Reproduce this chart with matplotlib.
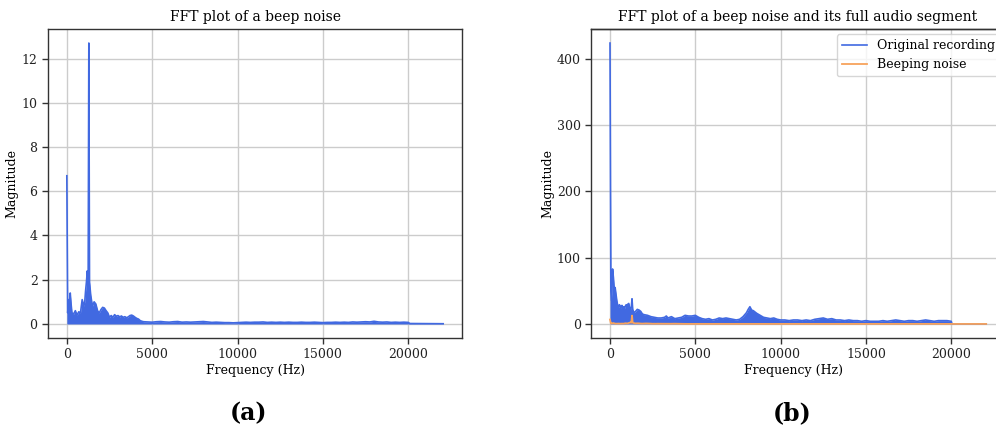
import matplotlib
matplotlib.use("Agg")
import matplotlib.pyplot as plt

# ---- data ----
# Beep noise spectrum (panel a, also the orange line in panel b)
beep_freq = [0, 50, 100, 150, 200, 250, 300, 400, 500, 600, 700, 800, 900, 1000,
             1050, 1100, 1150, 1200, 1250, 1290, 1330, 1400, 1500, 1600, 1700, 1800,
             1900, 2000, 2100, 2200, 2300, 2400, 2500, 2600, 2700, 2800, 2900, 3000,
             3100, 3200, 3300, 3400, 3500, 3600, 3700, 3800, 3900, 4000, 4100, 4200,
             4300, 4400, 4500, 4750, 5000, 5250, 5500, 5750, 6000, 6250, 6500, 6750,
             7000, 7250, 7500, 7750, 8000, 8250, 8500, 8750, 9000, 9250, 9500, 9750,
             10000, 10250, 10500, 10750, 11000, 11250, 11500, 11750, 12000, 12250,
             12500, 12750, 13000, 13250, 13500, 13750, 14000, 14250, 14500, 14750,
             15000, 15250, 15500, 15750, 16000, 16250, 16500, 16750, 17000, 17250,
             17500, 17750, 18000, 18250, 18500, 18750, 19000, 19250, 19500, 19750,
             20000, 20100, 22050]
beep_mag = [6.7, 0.5, 1.1, 0.7, 1.4, 0.9, 0.5, 0.45, 0.6, 0.4, 0.55, 0.5, 1.1, 0.8,
            1.0, 1.5, 1.9, 2.4, 1.8, 12.7, 1.9, 1.3, 0.8, 1.0, 0.9, 0.6,
            0.5, 0.65, 0.75, 0.72, 0.6, 0.5, 0.3, 0.38, 0.3, 0.42, 0.35, 0.38,
            0.32, 0.36, 0.3, 0.33, 0.28, 0.32, 0.38, 0.4, 0.36, 0.3, 0.25, 0.22,
            0.15, 0.12, 0.1, 0.09, 0.08, 0.1, 0.11, 0.09, 0.08, 0.1, 0.11, 0.08,
            0.09, 0.08, 0.09, 0.1, 0.11, 0.09, 0.07, 0.08, 0.07, 0.06, 0.06, 0.05,
            0.06, 0.07, 0.08, 0.07, 0.08, 0.08, 0.09, 0.07, 0.08, 0.07,
            0.08, 0.07, 0.08, 0.07, 0.07, 0.08, 0.07, 0.07, 0.08, 0.07,
            0.06, 0.07, 0.07, 0.08, 0.07, 0.08, 0.07, 0.09, 0.08, 0.09,
            0.1, 0.09, 0.12, 0.09, 0.08, 0.09, 0.07, 0.08, 0.07, 0.08,
            0.07, 0.02, 0.01]

# Original recording spectrum (panel b, blue)
orig_freq = [0, 50, 100, 150, 200, 250, 300, 350, 400, 450, 500, 550, 600, 650, 700,
             750, 800, 850, 900, 950, 1000, 1050, 1100, 1150, 1200, 1250, 1290, 1330,
             1400, 1500, 1600, 1700, 1800, 1900, 2000, 2200, 2400, 2600, 2800, 3000,
             3200, 3300, 3400, 3600, 3800, 4000, 4200, 4400, 4600, 4800, 5000, 5200,
             5400, 5600, 5800, 6000, 6200, 6400, 6600, 6800, 7000, 7200, 7400, 7600,
             7800, 8000, 8100, 8200, 8300, 8400, 8600, 8800, 9000, 9200, 9400, 9600,
             9800, 10000, 10250, 10500, 10750, 11000, 11250, 11500, 11750, 12000,
             12250, 12500, 12750, 13000, 13250, 13500, 13750, 14000, 14250, 14500,
             14750, 15000, 15250, 15500, 15750, 16000, 16250, 16500, 16750, 17000,
             17250, 17500, 17750, 18000, 18250, 18500, 18750, 19000, 19250, 19500,
             19750, 20000, 20050, 22050]
orig_mag = [424, 50, 35, 83, 70, 52, 55, 45, 35, 28, 25, 29, 27, 24, 28,
            25, 26, 23, 27, 29, 26, 30, 31, 24, 22, 26, 38, 22,
            17, 19, 22, 21, 19, 15, 14, 13, 11, 10, 9, 9,
            10, 12, 9, 11, 8, 9, 10, 13, 12, 12, 13, 10,
            8, 7, 8, 6, 7, 9, 8, 9, 8, 7, 6, 7,
            11, 17, 22, 26, 21, 20, 16, 13, 10, 9, 8, 9,
            7, 6, 6, 5, 6, 6, 5, 6, 5, 7,
            8, 9, 7, 8, 6, 6, 5, 6, 5, 5,
            4, 5, 4, 4, 4, 5, 4, 5, 6, 5,
            4, 5, 5, 4, 5, 6, 5, 4, 5, 5,
            5, 4, 0, 0]

titles = ["FFT plot of a beep noise",
          "FFT plot of a beep noise and its full audio segment"]
xlabel = "Frequency (Hz)"
ylabel = "Magnitude"
legend_labels = ["Original recording", "Beeping noise"]
captions = ["(a)", "(b)"]

BLUE = "#4169e1"
ORANGE = "#f7a35c"

plt.rcParams["font.family"] = ["DejaVu Serif"]
plt.rcParams["font.size"] = 9

fig = plt.figure(figsize=(9.96, 4.32), dpi=100)
W, H = 996.0, 432.0
ax1 = fig.add_axes([48 / W, (H - 338) / H, 414 / W, 309 / H])
# right panel runs off the right edge of the picture (as in the reference)
ax2 = fig.add_axes([591.2 / W, (H - 338) / H, (996 - 591.2) / W, 309 / H])


def style(ax):
    ax.grid(True, color="#cccccc", linewidth=1.0)
    ax.set_axisbelow(True)
    for s in ax.spines.values():
        s.set_color("#333333")
        s.set_linewidth(1.0)
    ax.tick_params(direction="out", length=4, width=1, color="#333333",
                   labelsize=9, labelcolor="#222222")
    ax.set_xticks([0, 5000, 10000, 15000, 20000])
    ax.set_xlabel(xlabel, fontsize=9, labelpad=2)
    ax.set_ylabel(ylabel, fontsize=9, labelpad=2)


# Panel (a)
ax1.fill_between(beep_freq, 0, beep_mag, color=BLUE, linewidth=0)
ax1.plot(beep_freq, beep_mag, color=BLUE, linewidth=1.2)
ax1.set_title(titles[0], fontsize=10)
style(ax1)
ax1.set_yticks([0, 2, 4, 6, 8, 10, 12])

# Panel (b)
ax2.fill_between(orig_freq, 0, orig_mag, color=BLUE, linewidth=0)
ax2.plot(orig_freq, orig_mag, color=BLUE, linewidth=1.2, label=legend_labels[0])
ax2.plot(beep_freq, beep_mag, color=ORANGE, linewidth=1.3, label=legend_labels[1])
ax2.set_title(titles[1], fontsize=10, x=(798 - 591.2) / (996 - 591.2))
style(ax2)
ax2.spines["right"].set_visible(False)
ax2.spines["top"].set_zorder(5)
ax2.set_yticks([0, 100, 200, 300, 400])
ax2.set_xlim(-1102.5, -1102.5 + (996 - 591.2) / 85.3 * 5000)
# explicit top frame edge (the panel continues past the picture edge)
ax2.plot([0, 1], [1, 1], transform=ax2.transAxes, color="#333333",
         linewidth=1.0, clip_on=False, zorder=6)
ax2.legend(handles=ax2.get_lines()[:2], loc="upper right", fontsize=9,
           frameon=True, framealpha=0.8, edgecolor="#cccccc", fancybox=True,
           handlelength=2.0, borderaxespad=0.4,
           bbox_to_anchor=((1005 - 591.2) / (996 - 591.2), 1.0))

fig.text(248 / W, (H - 413) / H, captions[0], ha="center", va="center",
         fontsize=17, fontweight="bold")
fig.text(792 / W, (H - 413) / H, captions[1], ha="center", va="center",
         fontsize=17, fontweight="bold")

fig.savefig("out.png", dpi=100)
